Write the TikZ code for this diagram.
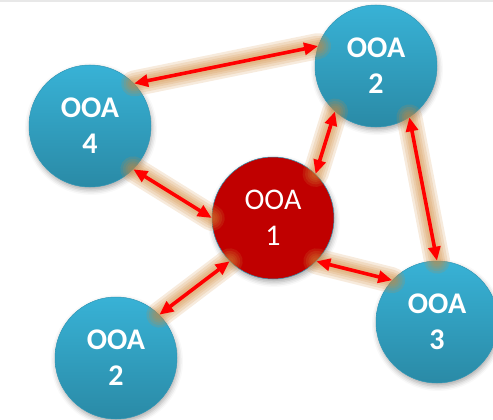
\documentclass[tikz,border=0pt]{standalone}
\usepackage{fontspec}
\setmainfont{Carlito}
\usetikzlibrary{arrows.meta,shadows.blur}

\definecolor{ooablue}{HTML}{38B2D6}
\definecolor{ooabluedark}{HTML}{2A8AA6}
\definecolor{ooared}{HTML}{C00000}
\definecolor{glowcol}{HTML}{D08838}

\begin{document}
\begin{tikzpicture}[x=1pt,y=-1pt]
\tikzstyle{ooa}=[circle,minimum size=122pt,inner sep=0pt,align=center,text=white,font=\fontsize{30}{36}\selectfont\bfseries,top color=ooablue,bottom color=ooabluedark,draw=ooablue!85!black,line width=0.5pt,blur shadow={shadow xshift=1pt,shadow yshift=-3pt,shadow blur radius=5pt,shadow opacity=35}]
\tikzstyle{hub}=[ooa,font=\fontsize{30}{36}\selectfont,top color=ooared,bottom color=ooared]
\tikzstyle{glow}=[line cap=round,glowcol,opacity=0.17,yshift=-1.5pt]
\tikzstyle{link}=[{Triangle[length=14pt,width=12pt]}-{Triangle[length=14pt,width=12pt]},red,line width=3.6pt]
\useasboundingbox (0,0) rectangle (493,420);
\fill[gray!18] (0,0) rectangle (493,2);

\node[ooa] (n4) at (90,126) {OOA\\4};
\node[ooa] (n2t) at (376,66) {OOA\\2};
\node[hub] (n1) at (273,218) {OOA\\1};
\node[ooa] (n2b) at (116,358) {OOA\\2};
\node[ooa] (n3) at (437,322) {OOA\\3};

\foreach \s/\t in {n4.44/n2t.161,n4.-45/n1.180,n1.46/n2t.228,n2t.-57/n3.90,n1.-45/n3.137,n2b.45/n1.225}
  \foreach \w in {26,21,16,12,8}
    \draw[glow,line width=\w pt] (\s) -- (\t);
\foreach \s/\t in {n4.44/n2t.161,n4.-45/n1.180,n1.46/n2t.228,n2t.-57/n3.90,n1.-45/n3.137,n2b.45/n1.225}
  \draw[link] (\s) -- (\t);
\end{tikzpicture}
\end{document}
